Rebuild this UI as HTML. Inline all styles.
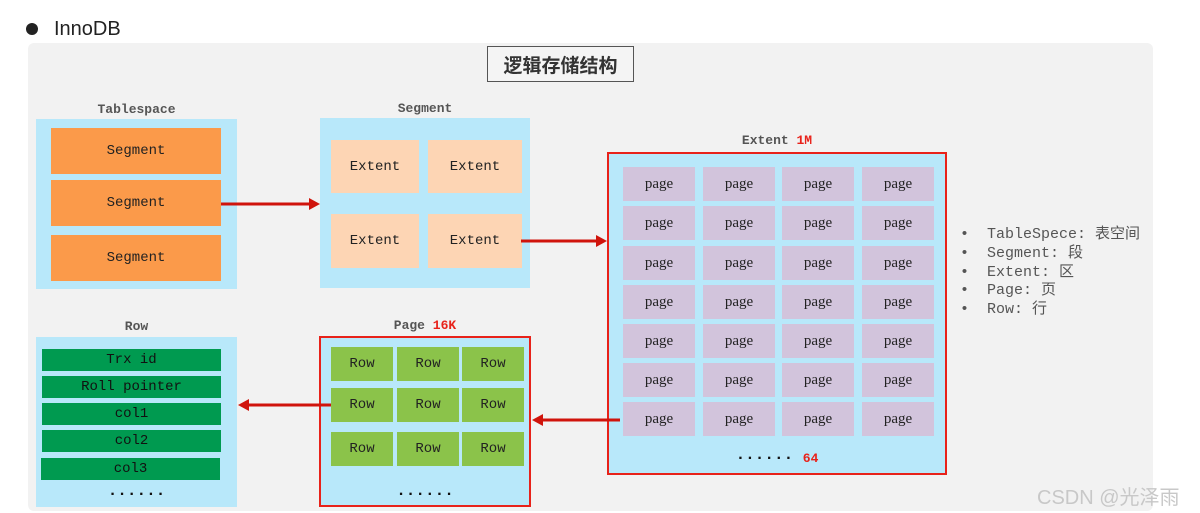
<!DOCTYPE html>
<html><head><meta charset="utf-8"><style>
*{margin:0;padding:0;box-sizing:border-box}
body{width:1200px;height:513px;background:#fff;position:relative;overflow:hidden;font-family:"Liberation Mono",monospace}
div{position:absolute}
.c{display:flex;align-items:center;justify-content:center;color:#222;font-size:14px}
.h{font-weight:bold;font-size:13px;color:#555;text-align:center}
.blue{background:#b8e8fa}
.seg{background:#fb9a4a}
.ext{background:#fdd5b4}
.pg{background:#d2c4dc;width:72px;height:34px}
.rw{background:#8bc34a;width:62px;height:34px}
.gr{background:#009a50;height:22px;width:179px;left:42px}
.red{color:#e8221a}
.dots{font-weight:bold;font-size:16px;color:#111;text-align:center;letter-spacing:0px}
</style></head><body>
<div style="left:26px;top:23px;width:12px;height:12px;border-radius:50%;background:#222"></div>
<div style="left:54px;top:16px;font-family:'Liberation Sans',sans-serif;font-size:20px;color:#222;line-height:26px">InnoDB</div>
<div style="left:28px;top:43px;width:1125px;height:468px;background:#f2f2f2;border-radius:6px"></div>
<div class="c" style="left:487px;top:46px;width:147px;height:36px;border:1px solid #555;background:#f4f4f4;font-family:'Noto Sans CJK SC',sans-serif;font-size:19px;font-weight:bold;color:#333">逻辑存储结构</div>

<div class="h" style="left:36px;top:102px;width:201px">Tablespace</div>
<div class="blue" style="left:36px;top:119px;width:201px;height:170px"></div>
<div class="c seg" style="left:51px;top:128px;width:170px;height:46px">Segment</div>
<div class="c seg" style="left:51px;top:180px;width:170px;height:46px">Segment</div>
<div class="c seg" style="left:51px;top:235px;width:170px;height:46px">Segment</div>

<div class="h" style="left:320px;top:101px;width:210px">Segment</div>
<div class="blue" style="left:320px;top:118px;width:210px;height:170px"></div>
<div class="c ext" style="left:331px;top:140px;width:88px;height:53px">Extent</div>
<div class="c ext" style="left:428px;top:140px;width:94px;height:53px">Extent</div>
<div class="c ext" style="left:331px;top:214px;width:88px;height:54px">Extent</div>
<div class="c ext" style="left:428px;top:214px;width:94px;height:54px">Extent</div>

<div class="h" style="left:607px;top:133px;width:340px">Extent <span class="red">1M</span></div>
<div class="blue" style="left:607px;top:152px;width:340px;height:323px;border:2px solid #e8221a"></div>
<div id="pages"></div>
<div class="dots" style="left:607px;top:449px;width:340px">······ <span class="red" style="font-size:13px">64</span></div>

<div style="left:960px;top:226px;font-size:15px;color:#555;line-height:18.8px;font-family:'Liberation Mono','Noto Sans CJK SC',monospace;white-space:pre">•  TableSpece: 表空间
•  Segment: 段
•  Extent: 区
•  Page: 页
•  Row: 行</div>

<div class="h" style="left:36px;top:319px;width:201px">Row</div>
<div class="blue" style="left:36px;top:337px;width:201px;height:170px"></div>
<div class="c gr" style="top:349px;color:#111">Trx id</div>
<div class="c gr" style="top:376px;color:#111">Roll pointer</div>
<div class="c gr" style="top:403px;color:#111">col1</div>
<div class="c gr" style="top:430px;color:#111">col2</div>
<div class="c gr" style="top:458px;left:41px;color:#111">col3</div>
<div class="dots" style="left:36px;top:485px;width:201px">······</div>

<div class="h" style="left:319px;top:318px;width:212px">Page <span class="red">16K</span></div>
<div class="blue" style="left:319px;top:336px;width:212px;height:171px;border:2px solid #e8221a"></div>
<div class="c rw" style="left:331px;top:347px">Row</div>
<div class="c rw" style="left:397px;top:347px">Row</div>
<div class="c rw" style="left:462px;top:347px">Row</div>
<div class="c rw" style="left:331px;top:388px">Row</div>
<div class="c rw" style="left:397px;top:388px">Row</div>
<div class="c rw" style="left:462px;top:388px">Row</div>
<div class="c rw" style="left:331px;top:432px">Row</div>
<div class="c rw" style="left:397px;top:432px">Row</div>
<div class="c rw" style="left:462px;top:432px">Row</div>
<div class="dots" style="left:319px;top:485px;width:212px">······</div>

<svg style="position:absolute;left:0;top:0" width="1200" height="513">
<g stroke="#d0140c" stroke-width="3" fill="#d0140c">
<line x1="221" y1="204" x2="310" y2="204"/><polygon points="320,204 309,198 309,210" stroke="none"/>
<line x1="521" y1="241" x2="597" y2="241"/><polygon points="607,241 596,235 596,247" stroke="none"/>
<line x1="331" y1="405" x2="248" y2="405"/><polygon points="238,405 249,399 249,411" stroke="none"/>
<line x1="620" y1="420" x2="542" y2="420"/><polygon points="532,420 543,414 543,426" stroke="none"/>
</g>
</svg>

<div style="left:1037px;top:481px;font-family:'Liberation Sans','Noto Sans CJK SC',sans-serif;font-size:20px;color:#c8c8c8">CSDN @光泽雨</div>

<script>
var xs=[623,703,782,862],ys=[167,206,246,285,324,363,402],h='';
ys.forEach(function(y){xs.forEach(function(x){h+='<div class="c pg" style="left:'+x+'px;top:'+y+'px;font-family:\'Liberation Serif\',serif;font-size:15px">page</div>';});});
document.getElementById('pages').outerHTML=h;
</script>
</body></html>
